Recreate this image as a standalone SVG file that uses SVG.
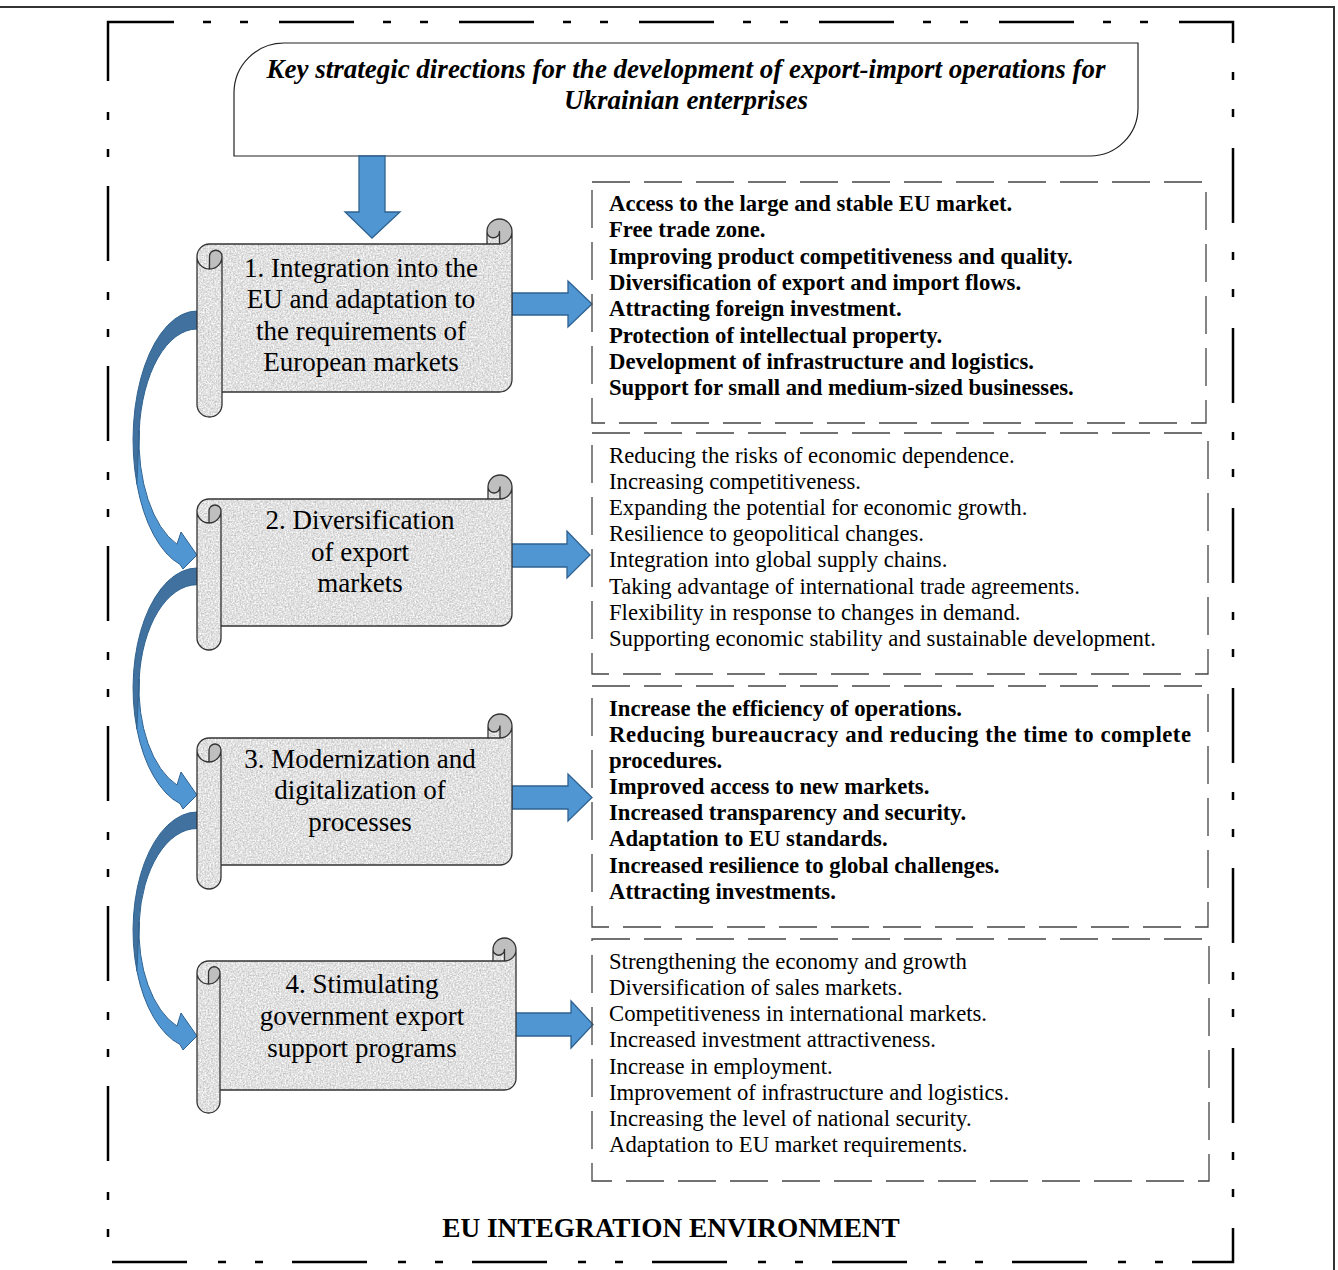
<svg xmlns="http://www.w3.org/2000/svg" width="1338" height="1270" viewBox="0 0 1338 1270">
<defs>
<filter id="granite" x="0" y="0" width="1" height="1" color-interpolation-filters="sRGB">
<feTurbulence type="fractalNoise" baseFrequency="0.6" numOctaves="3" seed="4" result="n"/>
<feColorMatrix in="n" type="matrix" values="0.38 0 0 0 0.69  0.38 0 0 0 0.69  0.38 0 0 0 0.69  0 0 0 0 1" result="g"/>
<feComposite in="g" in2="SourceGraphic" operator="in"/>
</filter>
</defs>
<style>
.frame{fill:none;stroke:#000;stroke-width:2.5;stroke-dasharray:75 29 8 29 8 31;stroke-dashoffset:9}
.border{fill:none;stroke:#333;stroke-width:2}
.title{fill:#fff;stroke:#222;stroke-width:1.2}
.ttl{font-family:"Liberation Serif","Times New Roman",serif;font-weight:bold;font-style:italic;font-size:27px;text-anchor:middle;fill:#000}
.paper{fill:#ddd;filter:url(#granite)}
.curl{fill:#bfbfbf}
.outline{fill:none;stroke:#333;stroke-width:1.3;stroke-linejoin:round}
.st{font-family:"Liberation Serif","Times New Roman",serif;font-size:27px;text-anchor:middle;fill:#000}
.box{fill:none;stroke:#444;stroke-width:1.3;stroke-dasharray:38 14}
.b{font-family:"Liberation Serif","Times New Roman",serif;font-size:22.7px;font-weight:bold;fill:#000}
.r{font-family:"Liberation Serif","Times New Roman",serif;font-size:22.7px;fill:#000}
.arrow{fill:#5096d2;stroke:#2f6290;stroke-width:1.3;stroke-linejoin:miter}
.dark{fill:#41729f;stroke:#2f6290;stroke-width:1}
.light{fill:#5096d2;stroke:#2f6290;stroke-width:1}
.env{font-family:"Liberation Serif","Times New Roman",serif;font-size:27.3px;font-weight:bold;text-anchor:middle;fill:#000}
</style>
<rect width="1338" height="1270" fill="#fff"/>
<path class="border" d="M0,7 L1334,7 L1334,1270"/>
<rect class="frame" x="108" y="22" width="1125" height="1240"/>

<g id="title">
<path class="title" d="M234,93 A50,50 0 0 1 284,43 L1138,43 L1138,108 A48,48 0 0 1 1090,156 L234,156 Z"/>
<text class="ttl" x="686" y="78">Key strategic directions for the development of export-import operations for</text>
<text class="ttl" x="686" y="109">Ukrainian enterprises</text>
</g>

<g id="connectors">
<path id="down-arrow" class="arrow" d="M359,156 L385,156 L385,212 L400,212 L372,238 L345,212 L359,212 Z"/>
<path class="arrow" d="M512,293 L568,293 L568,281 L592,304 L568,327 L568,315 L512,315 Z"/>
<path class="arrow" d="M510,544 L567,544 L567,531 L590,555 L567,578 L567,567 L510,567 Z"/>
<path class="arrow" d="M512,786 L568,786 L568,774 L592,797.5 L568,821 L568,809 L512,809 Z"/>
<path class="arrow" d="M514,1013 L571,1013 L571,1001 L593,1024.5 L571,1048 L571,1036 L514,1036 Z"/>
<path class="dark" d="M197,311 A64,129 0 0 0 136.9,484.1 L139.2,430.3 A58,111 0 0 1 197,329 Z"/>
<path class="light" d="M136.9,484.1 A64,129 0 0 0 180,564.4 L183,569 L197,555 L181,532 L177,544.2 A58,111 0 0 1 139.2,430.3 Z"/>
<path class="dark" d="M197,568 A64,120 0 0 0 136.9,729 L139.2,679 A58,103.3 0 0 1 197,584.7 Z"/>
<path class="light" d="M136.9,729 A64,120 0 0 0 180,803.7 L183,809 L197,795 L181,772 L177,785 A58,103.3 0 0 1 139.2,679 Z"/>
<path class="dark" d="M197,812 A64,118.4 0 0 0 136.9,970.9 L139.2,921.5 A58,101.9 0 0 1 197,828.5 Z"/>
<path class="light" d="M136.9,970.9 A64,118.4 0 0 0 180,1044.5 L183,1050 L197,1036 L181,1013 L177,1026.1 A58,101.9 0 0 1 139.2,921.5 Z"/>
</g>

<g id="scroll1">
<path class="paper" d="M512,231.5 A12.5,12.5 0 0 1 499.5,244 L499.5,231.5 A6.25,6.25 0 0 1 487,231.5 L487,244 L209.5,244 A12.5,12.5 0 0 0 197,256.5 L197,404.5 A12.5,12.5 0 0 0 222,404.5 L222,392 L499.5,392 A12.5,12.5 0 0 0 512,379.5 Z"/>
<path class="curl" d="M209.5,269 A12.5,12.5 0 0 0 222,256.5 A6.25,6.25 0 0 0 209.5,256.5 Z M499.5,244 A12.5,12.5 0 1 0 487,231.5 A6.25,6.25 0 0 0 499.5,231.5 Z"/>
<path class="outline" d="M197,256.5 A12.5,12.5 0 0 1 209.5,244 L487,244 L487,231.5 A12.5,12.5 0 0 1 512,231.5 L512,379.5 A12.5,12.5 0 0 1 499.5,392 L222,392 L222,404.5 A12.5,12.5 0 0 1 197,404.5 Z M487,244 L499.5,244 A12.5,12.5 0 0 0 512,231.5 M499.5,244 L499.5,231.5 A6.25,6.25 0 0 1 487,231.5 M209.5,269 L209.5,256.5 A6.25,6.25 0 0 1 222,256.5 A12.5,12.5 0 0 1 197,256.5 M222,256.5 L222,392"/>
<text class="st" x="361" y="277">1. Integration into the</text>
<text class="st" x="361" y="308">EU and adaptation to</text>
<text class="st" x="361" y="340">the requirements of</text>
<text class="st" x="361" y="371">European markets</text>
</g>

<g id="scroll2">
<path class="paper" d="M512,487 A12,12 0 0 1 500,499 L500,487 A6,6 0 0 1 488,487 L488,499 L209,499 A12,12 0 0 0 197,511 L197,638 A12,12 0 0 0 221,638 L221,626 L500,626 A12,12 0 0 0 512,614 Z"/>
<path class="curl" d="M209,523 A12,12 0 0 0 221,511 A6,6 0 0 0 209,511 Z M500,499 A12,12 0 1 0 488,487 A6,6 0 0 0 500,487 Z"/>
<path class="outline" d="M197,511 A12,12 0 0 1 209,499 L488,499 L488,487 A12,12 0 0 1 512,487 L512,614 A12,12 0 0 1 500,626 L221,626 L221,638 A12,12 0 0 1 197,638 Z M488,499 L500,499 A12,12 0 0 0 512,487 M500,499 L500,487 A6,6 0 0 1 488,487 M209,523 L209,511 A6,6 0 0 1 221,511 A12,12 0 0 1 197,511 M221,511 L221,626"/>
<text class="st" x="360" y="529">2. Diversification</text>
<text class="st" x="360" y="561">of export</text>
<text class="st" x="360" y="592">markets</text>
</g>

<g id="scroll3">
<path class="paper" d="M512,726 A12,12 0 0 1 500,738 L500,726 A6,6 0 0 1 488,726 L488,738 L209,738 A12,12 0 0 0 197,750 L197,877 A12,12 0 0 0 221,877 L221,865 L500,865 A12,12 0 0 0 512,853 Z"/>
<path class="curl" d="M209,762 A12,12 0 0 0 221,750 A6,6 0 0 0 209,750 Z M500,738 A12,12 0 1 0 488,726 A6,6 0 0 0 500,726 Z"/>
<path class="outline" d="M197,750 A12,12 0 0 1 209,738 L488,738 L488,726 A12,12 0 0 1 512,726 L512,853 A12,12 0 0 1 500,865 L221,865 L221,877 A12,12 0 0 1 197,877 Z M488,738 L500,738 A12,12 0 0 0 512,726 M500,738 L500,726 A6,6 0 0 1 488,726 M209,762 L209,750 A6,6 0 0 1 221,750 A12,12 0 0 1 197,750 M221,750 L221,865"/>
<text class="st" x="360" y="768">3. Modernization and</text>
<text class="st" x="360" y="799">digitalization of</text>
<text class="st" x="360" y="831">processes</text>
</g>

<g id="scroll4">
<path class="paper" d="M516,949.5 A11.5,11.5 0 0 1 504.5,961 L504.5,949.5 A5.75,5.75 0 0 1 493,949.5 L493,961 L208.5,961 A11.5,11.5 0 0 0 197,972.5 L197,1101.5 A11.5,11.5 0 0 0 220,1101.5 L220,1090 L504.5,1090 A11.5,11.5 0 0 0 516,1078.5 Z"/>
<path class="curl" d="M208.5,984 A11.5,11.5 0 0 0 220,972.5 A5.75,5.75 0 0 0 208.5,972.5 Z M504.5,961 A11.5,11.5 0 1 0 493,949.5 A5.75,5.75 0 0 0 504.5,949.5 Z"/>
<path class="outline" d="M197,972.5 A11.5,11.5 0 0 1 208.5,961 L493,961 L493,949.5 A11.5,11.5 0 0 1 516,949.5 L516,1078.5 A11.5,11.5 0 0 1 504.5,1090 L220,1090 L220,1101.5 A11.5,11.5 0 0 1 197,1101.5 Z M493,961 L504.5,961 A11.5,11.5 0 0 0 516,949.5 M504.5,961 L504.5,949.5 A5.75,5.75 0 0 1 493,949.5 M208.5,984 L208.5,972.5 A5.75,5.75 0 0 1 220,972.5 A11.5,11.5 0 0 1 197,972.5 M220,972.5 L220,1090"/>
<text class="st" x="362" y="993">4. Stimulating</text>
<text class="st" x="362" y="1025">government export</text>
<text class="st" x="362" y="1057">support programs</text>
</g>

<g id="box1">
<rect class="box" x="592" y="182" width="614" height="241"/>
<text class="b" x="609" y="211">Access to the large and stable EU market.</text>
<text class="b" x="609" y="237">Free trade zone.</text>
<text class="b" x="609" y="264">Improving product competitiveness and quality.</text>
<text class="b" x="609" y="290">Diversification of export and import flows.</text>
<text class="b" x="609" y="316">Attracting foreign investment.</text>
<text class="b" x="609" y="343">Protection of intellectual property.</text>
<text class="b" x="609" y="369">Development of infrastructure and logistics.</text>
<text class="b" x="609" y="395">Support for small and medium-sized businesses.</text>
</g>

<g id="box2">
<rect class="box" x="592" y="433" width="616" height="241"/>
<text class="r" x="609" y="463">Reducing the risks of economic dependence.</text>
<text class="r" x="609" y="489">Increasing competitiveness.</text>
<text class="r" x="609" y="515">Expanding the potential for economic growth.</text>
<text class="r" x="609" y="541">Resilience to geopolitical changes.</text>
<text class="r" x="609" y="567">Integration into global supply chains.</text>
<text class="r" x="609" y="594">Taking advantage of international trade agreements.</text>
<text class="r" x="609" y="620">Flexibility in response to changes in demand.</text>
<text class="r" x="609" y="646">Supporting economic stability and sustainable development.</text>
</g>

<g id="box3">
<rect class="box" x="592" y="686" width="616" height="241"/>
<text class="b" x="609" y="716">Increase the efficiency of operations.</text>
<text class="b" x="609" y="742" textLength="582" lengthAdjust="spacing">Reducing bureaucracy and reducing the time to complete</text>
<text class="b" x="609" y="768">procedures.</text>
<text class="b" x="609" y="794">Improved access to new markets.</text>
<text class="b" x="609" y="820">Increased transparency and security.</text>
<text class="b" x="609" y="846">Adaptation to EU standards.</text>
<text class="b" x="609" y="873">Increased resilience to global challenges.</text>
<text class="b" x="609" y="899">Attracting investments.</text>
</g>

<g id="box4">
<rect class="box" x="592" y="939" width="617" height="242"/>
<text class="r" x="609" y="969">Strengthening the economy and growth</text>
<text class="r" x="609" y="995">Diversification of sales markets.</text>
<text class="r" x="609" y="1021">Competitiveness in international markets.</text>
<text class="r" x="609" y="1047">Increased investment attractiveness.</text>
<text class="r" x="609" y="1074">Increase in employment.</text>
<text class="r" x="609" y="1100">Improvement of infrastructure and logistics.</text>
<text class="r" x="609" y="1126">Increasing the level of national security.</text>
<text class="r" x="609" y="1152">Adaptation to EU market requirements.</text>
</g>

<g id="environment-label">
<text class="env" x="671" y="1237">EU INTEGRATION ENVIRONMENT</text>
</g>
</svg>
